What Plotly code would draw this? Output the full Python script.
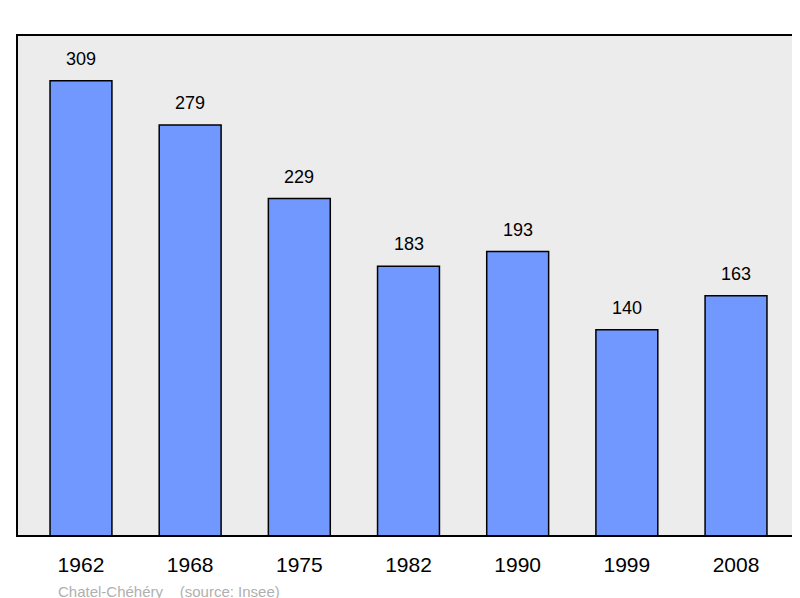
import plotly.graph_objects as go

years = ["1962", "1968", "1975", "1982", "1990", "1999", "2008"]
population = [309, 279, 229, 183, 193, 140, 163]
xpos = list(range(len(years)))

fig = go.Figure(go.Bar(
    x=xpos, y=population,
    marker=dict(color="#7098ff", line=dict(color="black", width=1.5)),
    width=0.567,
))
fig.update_layout(
    width=800, height=598, margin=dict(l=9, r=8, t=27, b=70, autoexpand=False),
    paper_bgcolor="white", plot_bgcolor="#ececec", showlegend=False,
    font=dict(family="Liberation Sans"),
    xaxis=dict(range=[-0.586, 6.586], tickvals=xpos, ticktext=years,
               ticks="outside", ticklen=10, tickcolor="rgba(0,0,0,0)",
               tickfont=dict(size=21, color="black"), showgrid=False, zeroline=False),
    yaxis=dict(range=[0, 340], visible=False, showgrid=False),
    shapes=[dict(type="rect", xref="paper", yref="paper", x0=0, x1=1, y0=0, y1=1,
                 line=dict(color="black", width=2))],
    annotations=[dict(x=x, y=v, text=str(v), showarrow=False, yanchor="bottom", yshift=10,
                      font=dict(size=18, color="black")) for x, v in zip(xpos, population)] +
                [dict(text="Chatel-Chéhéry    (source: Insee)", xref="paper", yref="paper",
                      x=0.05, y=-0.11, xanchor="left", yanchor="middle", showarrow=False,
                      font=dict(size=15, color="#b0b0b0"))],
)
fig.write_html("out.html")
